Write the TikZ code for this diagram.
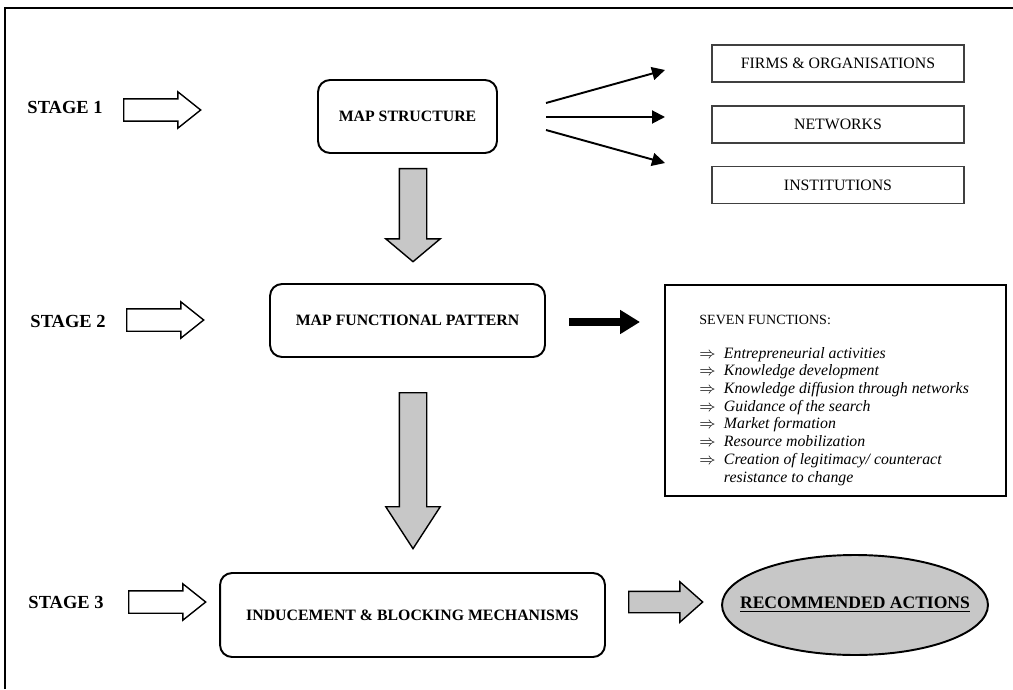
\documentclass[tikz,border=0pt]{standalone}
\usepackage{fontspec}
\setmainfont{Liberation Serif}
\usetikzlibrary{shapes.arrows,shapes.geometric,arrows.meta}
\begin{document}
\begin{tikzpicture}[x=0.02cm,y=-0.02cm,
    stagelbl/.style={inner sep=0,font=\fontsize{10.5}{12}\selectfont\bfseries},
    roundbox/.style={draw,line width=1.1pt,rounded corners=0.24cm,font=\fontsize{9}{11}\selectfont\bfseries},
    plainbox/.style={draw=black!75,line width=0.8pt,minimum width=5.04cm,minimum height=0.74cm,font=\fontsize{9}{11}\selectfont},
    hollowarr/.style={single arrow,draw,line width=0.8pt,inner sep=0.21cm,single arrow head extend=0.14cm,minimum height=1.54cm,single arrow tip angle=77,anchor=tail},
    grayarr/.style={single arrow,draw,fill=black!22,line width=0.8pt,anchor=tail},
    thinarr/.style={line width=1.1pt,-{Triangle[length=7.4pt,width=7.4pt]}}]
  \useasboundingbox (0,0) rectangle (1013,689);
  \draw[line width=1.7pt] (5,689) -- (5,8) -- (1013,8);

  % stages
  \node[stagelbl] (st1) at (65,107) {STAGE 1};
  \node[stagelbl] (st2) at (68,321) {STAGE 2};
  \node[stagelbl] (st3) at (66,602) {STAGE 3};
  \node[hollowarr] (ha1) at (123,110) {};
  \node[hollowarr] (ha2) at (126,320) {};
  \node[hollowarr] (ha3) at (128,602) {};

  % main boxes
  \node[roundbox,minimum width=3.58cm,minimum height=1.46cm] (struct) at (407.5,116.5) {MAP STRUCTURE};
  \node[roundbox,minimum width=5.5cm,minimum height=1.46cm] (pattern) at (407.5,320.5) {MAP FUNCTIONAL PATTERN};
  \node[roundbox,minimum width=7.7cm,minimum height=1.68cm] (mech) at (412.5,615) {INDUCEMENT \& BLOCKING MECHANISMS};

  % structure elements
  \node[plainbox] (firms) at (838,63.5) {FIRMS \& ORGANISATIONS};
  \node[plainbox] (nets) at (838,124.5) {NETWORKS};
  \node[plainbox] (inst) at (838,185) {INSTITUTIONS};
  \coordinate (s1) at (546,103);
  \coordinate (s2) at (546,117);
  \coordinate (s3) at (546,130);
  \coordinate (e1) at (665,70);
  \coordinate (e2) at (665,117);
  \coordinate (e3) at (665,163);
  \draw[thinarr] (s1) -- (e1);
  \draw[thinarr] (s2) -- (e2);
  \draw[thinarr] (s3) -- (e3);

  % downward arrows
  \node[grayarr,rotate=-90,inner sep=0.26cm,single arrow head extend=0.27cm,minimum height=1.86cm,single arrow tip angle=100] (down1) at (413,168) {};
  \node[grayarr,rotate=-90,inner sep=0.26cm,single arrow head extend=0.27cm,minimum height=3.12cm,single arrow tip angle=66] (down2) at (413,392) {};

  % functions
  \coordinate (f1) at (569,322);
  \coordinate (f2) at (640,322);
  \draw[line width=4pt,-{Triangle[length=11.3pt,width=13pt]}] (f1) -- (f2);
  \node[draw,line width=0.8pt,minimum width=6.82cm,minimum height=4.22cm] (funcs) at (835.5,390.5) {};
  \node[anchor=west,inner sep=0,font=\fontsize{8}{10}\selectfont] (ftitle) at (699,320) {SEVEN FUNCTIONS:};
  \node[anchor=base west,inner sep=0,font=\fontsize{9}{10.1}\selectfont] (flist) at (699,358) {%
    \begin{tabular}[t]{@{}p{14pt}@{}l@{}}
      $\Rightarrow$ & \textit{Entrepreneurial activities}\\
      $\Rightarrow$ & \textit{Knowledge development}\\
      $\Rightarrow$ & \textit{Knowledge diffusion through networks}\\
      $\Rightarrow$ & \textit{Guidance of the search}\\
      $\Rightarrow$ & \textit{Market formation}\\
      $\Rightarrow$ & \textit{Resource mobilization}\\
      $\Rightarrow$ & \textit{Creation of legitimacy/ counteract}\\
                    & \textit{resistance to change}
    \end{tabular}};

  % actions
  \node[grayarr,inner sep=0.2cm,single arrow head extend=0.19cm,minimum height=1.48cm,single arrow tip angle=83] (right1) at (628,602) {};
  \node[ellipse,draw,fill=black!22,line width=1.1pt,minimum width=5.32cm,minimum height=2.0cm,inner sep=0] (recs) at (855,605) {};
  \node[font=\fontsize{10}{12}\selectfont\bfseries] (recstxt) at (recs.center) {\underline{RECOMMENDED ACTIONS}};
\end{tikzpicture}
\end{document}
